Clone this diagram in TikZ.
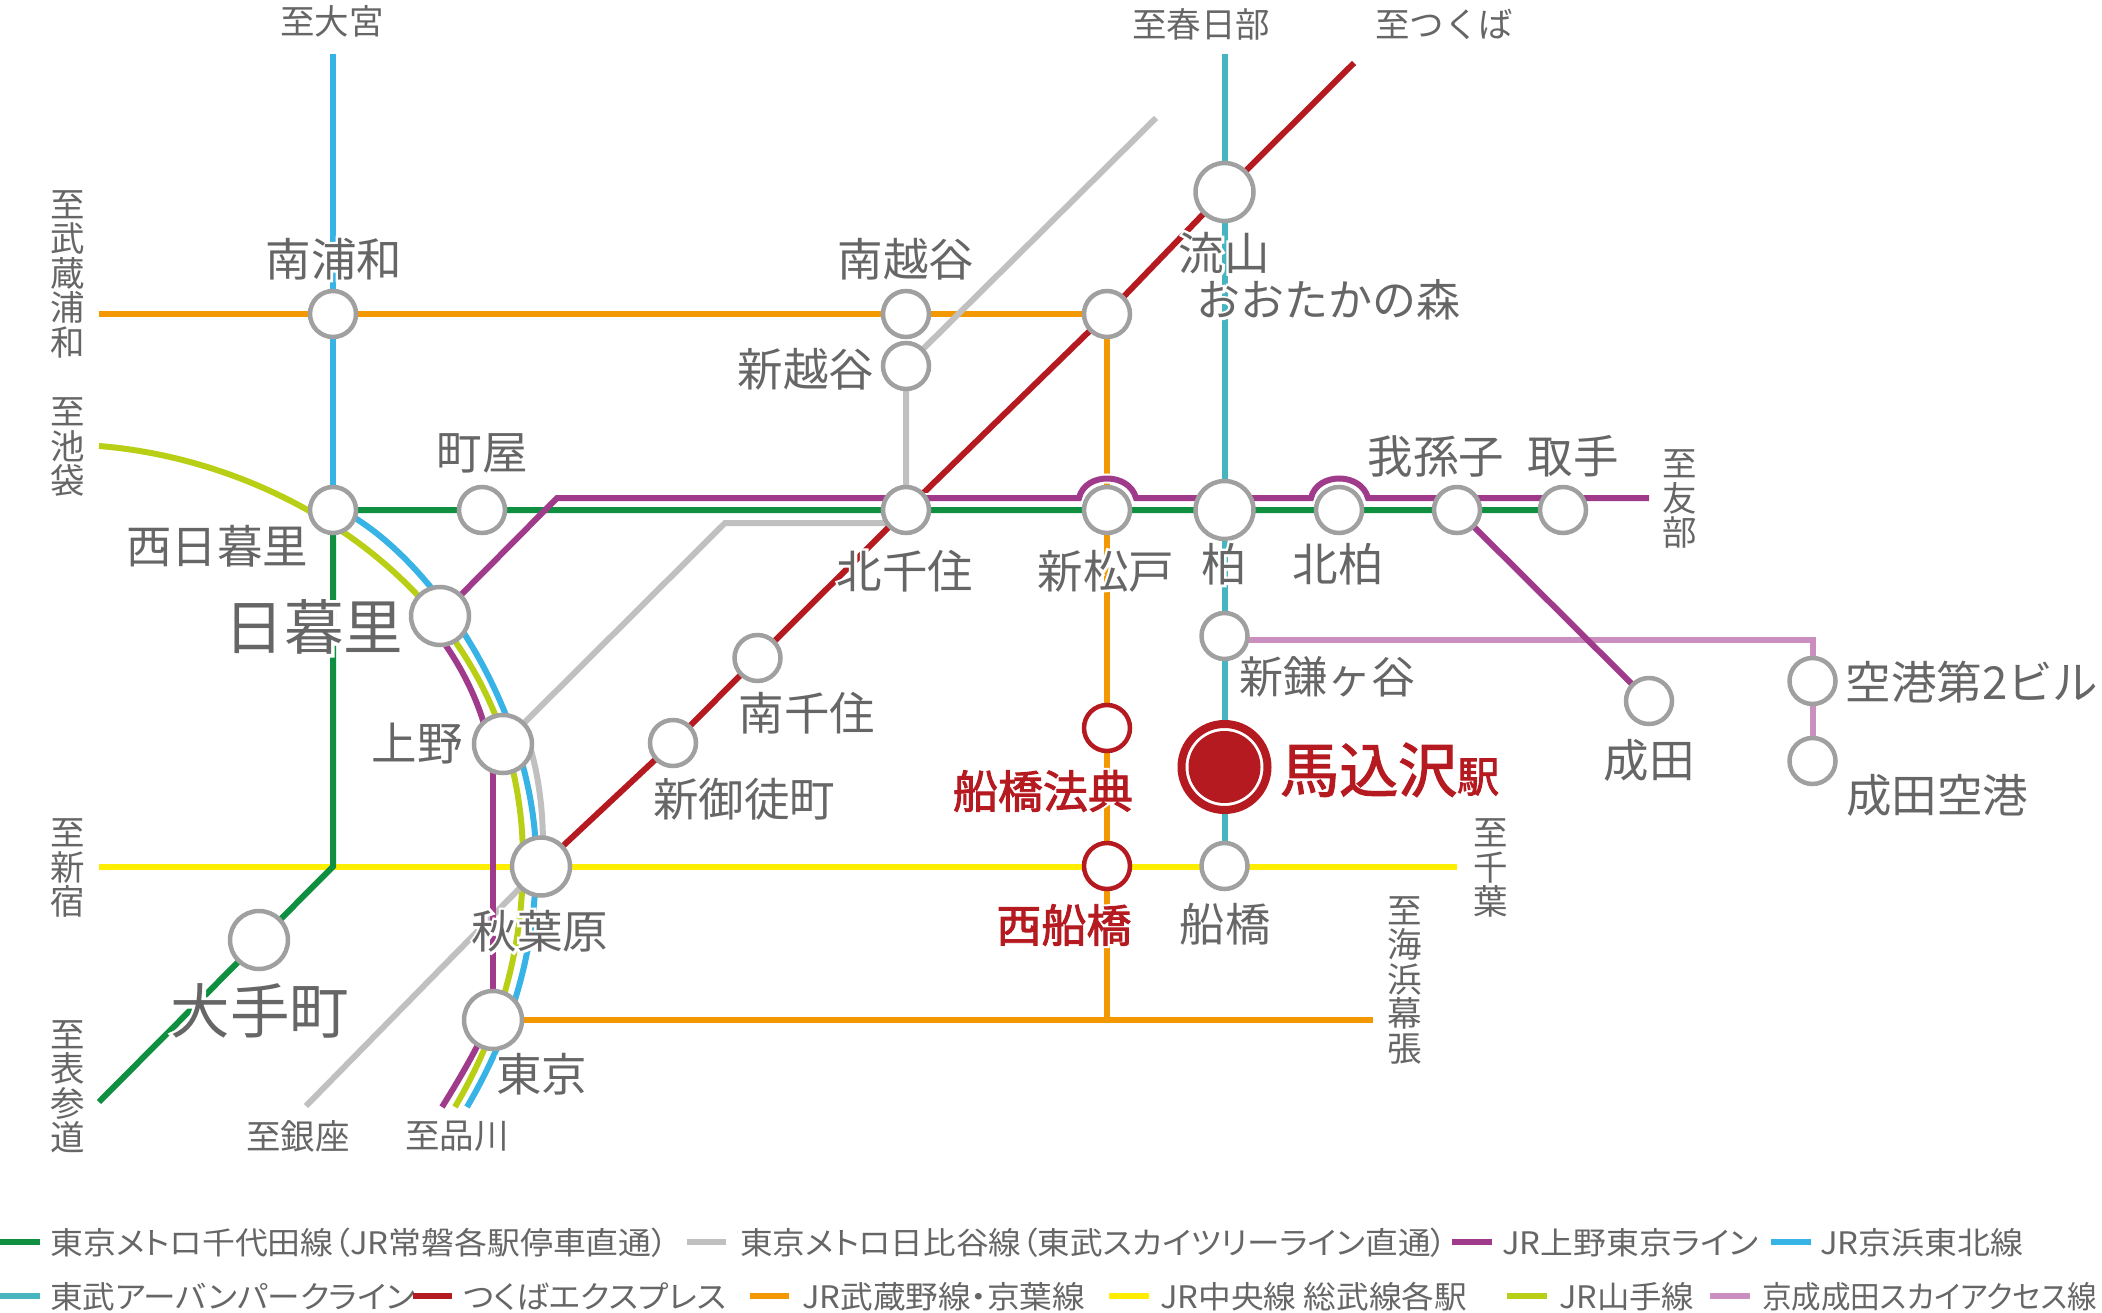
\documentclass[tikz,border=0pt]{standalone}
\usepackage{fontspec}
\usepackage{graphicx}
\newfontfamily\jp{Noto Sans CJK JP}
\newfontfamily\jpm{Noto Sans CJK JP}[FakeBold=2]
\newfontfamily\jph{Noto Sans CJK JP}[FakeBold=11]
\newfontfamily\jpp{Noto Sans CJK JP}[RawFeature=+palt]
\newcommand\fs[1]{\jp\fontsize{#1}{#1}\selectfont}
\newcommand\fsm[1]{\jpm\fontsize{#1}{#1}\selectfont}
\newcommand\fsp[1]{\jpp\fontsize{#1}{#1}\selectfont}
\newcommand\halo[1]{\leavevmode\rlap{\color{white}\jph #1}#1}
\newcommand\halom[1]{\leavevmode\rlap{\color{white}\jph #1}{\jpm #1}}
\newcommand\fitw[2]{\resizebox{#1pt}{\height}{#2}}
\definecolor{cgreen}{HTML}{0F9040}
\definecolor{cblue}{HTML}{38B3E6}
\definecolor{cyama}{HTML}{B9CF15}
\definecolor{cpurple}{HTML}{A03A8A}
\definecolor{cgray}{HTML}{C0C0C0}
\definecolor{cyellow}{HTML}{FFEE00}
\definecolor{corange}{HTML}{F39800}
\definecolor{cteal}{HTML}{47B5BF}
\definecolor{cred}{HTML}{B61A21}
\definecolor{cpink}{HTML}{CB8FBF}
\definecolor{cstn}{HTML}{A0A0A0}
\definecolor{ctxt}{HTML}{666666}
\pgfdeclarelayer{bg}
\pgfsetlayers{bg,main}
\tikzset{
  ln/.style={line width=6pt,line join=miter},
  stn/.style={circle,draw=cstn,fill=white,line width=4.5pt,minimum size=46pt,inner sep=0pt,outer sep=0pt},
  stnbig/.style={stn,minimum size=58pt},
  stnred/.style={stn,draw=cred,minimum size=46pt},
  lab/.style={text=ctxt,font=\fs{45.5},inner sep=0pt,align=center},
  labk/.style={lab,font=\fs{44}},
  labbig/.style={lab,font=\fs{59.5}},
  labred/.style={text=cred,font=\fsm{45},inner sep=0pt},
  dest/.style={text=ctxt,font=\fs{34.5},inner sep=0pt,align=center},
  vdest/.style={dest,font=\jp\fontsize{34.5}{34.5}\selectfont},
  leg/.style={text=ctxt,font=\fsp{31},inner sep=0pt,anchor=west},
}
\begin{document}
\begin{tikzpicture}[x=1pt,y=-1pt]
\useasboundingbox (0,0) rectangle (2102,1313);
% stations
\node[stn] (minamiurawa) at (333,314) {};
\node[stn] (minamikoshigaya) at (906,314) {};
\node[stn] (shinkoshigaya) at (906,366) {};
\node[stn] (musashino) at (1107,314) {};
\node[stnbig] (nagareyama) at (1224.5,192) {};
\node[stn] (nishinippori) at (333,510) {};
\node[stn] (machiya) at (482,510) {};
\node[stn] (kitasenju) at (906,510) {};
\node[stn] (shinmatsudo) at (1107,510) {};
\node[stnbig] (kashiwa) at (1224.5,510) {};
\node[stn] (kitakashiwa) at (1339,510) {};
\node[stn] (abiko) at (1457,510) {};
\node[stn] (toride) at (1563,510) {};
\node[stn] (shinkamagaya) at (1224.5,636) {};
\node[stn] (narita) at (1649,701) {};
\node[stn] (kuko2) at (1812.5,681) {};
\node[stn] (naritakuko) at (1812.5,761) {};
\node[stnbig] (nippori) at (440,616) {};
\node[stnbig] (ueno) at (503,744) {};
\node[stnbig] (akihabara) at (541,866.5) {};
\node[stnbig] (tokyo) at (493,1020) {};
\node[stnbig] (otemachi) at (259,940) {};
\node[stn] (minamisenju) at (757.5,658) {};
\node[stn] (shinokachimachi) at (673,743) {};
\node[stnred] (funabashihoten) at (1107,728) {};
\node[stnred] (nishifunabashi) at (1107,866) {};
\node[stn] (funabashi) at (1224.5,866) {};
\node[circle,draw=cred,fill=white,line width=8pt,minimum size=86pt,inner sep=0pt] (magomezawa) at (1224.5,767) {};
\node[circle,fill=cred,minimum size=72pt,inner sep=0pt] (magomezawadot) at (1224.5,767) {};
% free ends
\coordinate (oomiya) at (333,54);
\coordinate (kasukabe) at (1224.5,54);
\coordinate (tsukuba) at (1354,63);
\coordinate (koshiend) at (1156,118);
\coordinate (murawa) at (99,314);
\coordinate (shinjuku) at (99,866.5);
\coordinate (chiba) at (1457,866.5);
\coordinate (greencorner) at (333,866.5);
\coordinate (omotesando) at (99,1102);
\coordinate (ginza) at (306,1106);
\coordinate (makuhari) at (1373,1020);
\coordinate (orangejoin) at (1107,1020);
\coordinate (tomobe) at (1649,498);
\coordinate (pinkcorner) at (1812.5,640);
\coordinate (hib1) at (725,523);
\coordinate (hib2) at (890,523);
\coordinate (purple1) at (557,498);
\begin{pgfonlayer}{bg}
% yellow
\draw[ln,cyellow] (shinjuku) -- (chiba);
% orange
\draw[ln,corange] (murawa) -- (minamiurawa) -- (minamikoshigaya) -- (musashino.center) -- (shinmatsudo) -- (funabashihoten) -- (nishifunabashi) -- (orangejoin);
\draw[ln,corange] (tokyo) -- (makuhari);
% teal
\draw[ln,cteal] (kasukabe) -- (nagareyama) -- (kashiwa) -- (shinkamagaya) -- (magomezawa) -- (funabashi);
% blue straight + curve
\draw[ln,cblue] (oomiya) -- (minamiurawa) -- (nishinippori);
\draw[ln,cblue] (345,512) .. controls (440,565) and (536,720) .. (536,860) .. controls (536,950) and (512,1030) .. (467,1107);
% yamanote
\draw[ln,cyama] (99,446) .. controls (300,462) and (523,610) .. (523,860) .. controls (523,950) and (500,1030) .. (455,1107);
% gray
\draw[ln,cgray] (koshiend) -- (shinkoshigaya) -- (kitasenju);
\draw[ln,cgray] (hib2) -- (hib1) -- (ueno);
\draw[ln,cgray] (528,740) .. controls (536,765) and (543,800) .. (543,845);
\draw[ln,cgray] (akihabara) -- (ginza);
% green
\draw[ln,cgreen] (toride) -- (abiko) -- (kitakashiwa) -- (kashiwa) -- (shinmatsudo) -- (kitasenju) -- (machiya) -- (nishinippori) -- (greencorner) -- (omotesando);
% red
\draw[ln,cred] (tsukuba) -- (nagareyama) -- (musashino) -- (kitasenju) -- (minamisenju) -- (shinokachimachi) -- (akihabara);
% pink
\draw[ln,cpink] (shinkamagaya.east |- pinkcorner) -- (pinkcorner) -- (kuko2) -- (naritakuko);
% purple
\draw[line width=10pt,white] (purple1) -- (1079,498) .. controls (1085,472) and (1129,472) .. (1136,498) -- (1311,498) .. controls (1317,472) and (1361,472) .. (1368,498) -- (tomobe);
\draw[ln,cpurple] (nippori) -- (purple1) -- (1079,498) .. controls (1085,472) and (1129,472) .. (1136,498) -- (1311,498) .. controls (1317,472) and (1361,472) .. (1368,498) -- (tomobe);
\draw[ln,cpurple] (abiko) -- (narita);
\draw[ln,cpurple] (442,640) .. controls (465,672) and (490,720) .. (493,774);
\draw[ln,cpurple] (ueno.center -| tokyo) -- (tokyo);
\draw[ln,cpurple] (490,1018) .. controls (482,1040) and (462,1075) .. (442,1107);
\end{pgfonlayer}
% destination labels
\node[dest] (tOomiya) at (332,21) {至大宮};
\node[dest] (tKasukabe) at (1201,24) {至春日部};
\node[dest] (tTsukuba) at (1444,24) {至つくば};
\node[vdest] (tMusashiurawa) at (68,274) {至\\武\\蔵\\浦\\和};
\node[vdest] (tIkebukuro) at (68,447) {至\\池\\袋};
\node[vdest] (tTomobe) at (1680,499) {至\\友\\部};
\node[vdest] (tShinjuku) at (68,868) {至\\新\\宿};
\node[vdest] (tChiba) at (1491,868) {至\\千\\葉};
\node[vdest] (tMakuhari) at (1405,980) {至\\海\\浜\\幕\\張};
\node[vdest] (tOmotesando) at (68,1087) {至\\表\\参\\道};
\node[dest] (tGinza) at (298,1136) {至銀座};
\node[dest] (tShinagawa) at (457,1136) {至品川};
% station labels
\node[lab] (lMinamiurawa) at (334,259) {\halo{南浦和}};
\node[lab] (lMinamikoshigaya) at (906,259) {南越谷};
\node[lab] (lShinkoshigaya) at (806,369) {新越谷};
\node[lab] (lNagareyama) at (1224,253) {\halo{流山}};
\node[labk] (lOotaka) at (1328,300) {\halo{おおたかの森}};
\node[lab] (lMachiya) at (482,453) {町屋};
\node[lab] (lNishinippori) at (217,546) {西日暮里};
\node[labbig] (lNippori) at (314,627) {\halo{日暮里}};
\node[lab] (lUeno) at (417,744) {上野};
\node[lab] (lKitasenju) at (905,571) {\halo{北千住}};
\node[lab] (lShinmatsudo) at (1106,571) {\halo{新松戸}};
\node[lab] (lKashiwa) at (1224,564) {\halo{柏}};
\node[lab] (lKitakashiwa) at (1338,564) {北柏};
\node[lab] (lAbiko) at (1436,456) {我孫子};
\node[lab] (lToride) at (1573,456) {取手};
\node[labk] (lShinkamagaya) at (1327,677) {新鎌ヶ谷};
\node[lab] (lNarita) at (1649,760) {成田};
\node[lab] (lKuko2) at (1972,682) {空港第2ビル};
\node[lab] (lNaritakuko) at (1937,795) {成田空港};
\node[lab] (lMinamisenju) at (807,713) {南千住};
\node[lab] (lShinokachimachi) at (744,799) {新御徒町};
\node[lab] (lFunabashi) at (1225,924) {船橋};
\node[lab] (lAkihabara) at (540,931) {\halo{秋葉原}};
\node[lab] (lTokyo) at (541.6,1074) {\halo{東京}};
\node[labbig] (lOtemachi) at (260,1011) {\halo{大手町}};
\node[labred] (lFunabashihoten) at (1043,791) {\halom{船橋法典}};
\node[labred] (lNishifunabashi) at (1064,925) {\halom{西船橋}};
\node[text=cred,inner sep=0pt,anchor=base west] (lMagomezawa) at (1280,792) {\fsm{59}馬込沢\fsm{42}駅};
% legend
\coordinate (sw1a) at (0,1242);\coordinate (sw1b) at (40,1242);
\coordinate (sw2a) at (687,1242);\coordinate (sw2b) at (726,1242);
\coordinate (sw3a) at (1452,1242);\coordinate (sw3b) at (1492,1242);
\coordinate (sw4a) at (1771,1242);\coordinate (sw4b) at (1811,1242);
\coordinate (sw5a) at (0,1296);\coordinate (sw5b) at (40,1296);
\coordinate (sw6a) at (413,1296);\coordinate (sw6b) at (452,1296);
\coordinate (sw7a) at (750,1296);\coordinate (sw7b) at (789,1296);
\coordinate (sw8a) at (1109,1296);\coordinate (sw8b) at (1149,1296);
\coordinate (sw9a) at (1507,1296);\coordinate (sw9b) at (1547,1296);
\coordinate (sw10a) at (1710,1296);\coordinate (sw10b) at (1750,1296);
\draw[ln,cgreen] (sw1a) -- (sw1b);
\draw[ln,cgray] (sw2a) -- (sw2b);
\draw[ln,cpurple] (sw3a) -- (sw3b);
\draw[ln,cblue] (sw4a) -- (sw4b);
\draw[ln,cteal] (sw5a) -- (sw5b);
\draw[ln,cyellow] (sw8a) -- (sw8b);
\draw[ln,corange] (sw7a) -- (sw7b);
\draw[ln,cyama] (sw9a) -- (sw9b);
\draw[ln,cpink] (sw10a) -- (sw10b);
\node[leg] (l1) at (50,1243) {\fitw{618}{東京メトロ千代田線（JR常磐各駅停車直通）}};
\node[leg] (l2) at (740,1243) {\fitw{707}{東京メトロ日比谷線（東武スカイツリーライン直通）}};
\node[leg] (l3) at (1502,1243) {\fitw{256}{JR上野東京ライン}};
\node[leg] (l4) at (1820,1243) {\fitw{203}{JR京浜東北線}};
\node[leg] (l5) at (50,1297) {\fitw{365}{東武アーバンパークライン}};
\draw[ln,cred] (sw6a) -- (sw6b);
\node[leg] (l6) at (463,1297) {\fitw{263}{つくばエクスプレス}};
\node[leg] (l7) at (802,1297) {\fitw{283}{JR武蔵野線・京葉線}};
\node[leg] (l8) at (1160,1297) {\fitw{307}{JR中央線 総武線各駅}};
\node[leg] (l9) at (1559,1297) {\fitw{135}{JR山手線}};
\node[leg] (l10) at (1762,1297) {\fitw{335}{京成成田スカイアクセス線}};
\end{tikzpicture}
\end{document}
